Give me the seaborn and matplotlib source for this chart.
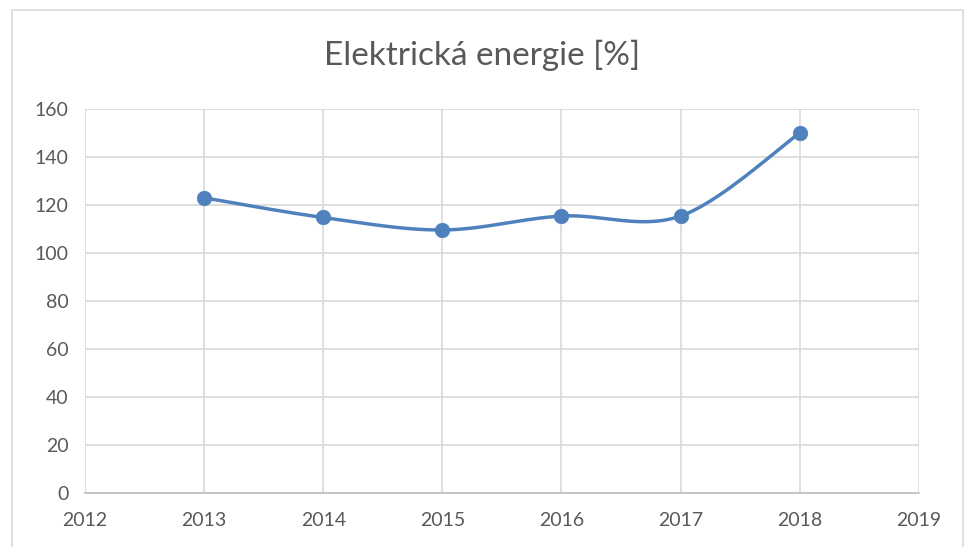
import numpy as np
import pandas as pd
import matplotlib
matplotlib.use('Agg')
import matplotlib.pyplot as plt
import seaborn as sns
from matplotlib.patches import Rectangle

# data
years = [2013, 2014, 2015, 2016, 2017, 2018]
values = [123, 114.8, 109.6, 115.4, 115.4, 150]

LINE_COLOR = '#4f81bd'
TEXT_COLOR = '#595959'
GRID_COLOR = '#d9d9d9'


def smooth_curve(xs, ys, steps=40):
    """Bezier smoothing like Excel's 'smoothed line' (Catmull-Rom control points)"""
    pts = np.column_stack([xs, ys]).astype(float)
    padded = np.vstack([pts[0], pts, pts[-1]])
    out = []
    t = np.linspace(0, 1, steps)[:, None]
    for i in range(1, len(padded) - 2):
        p0, p1, p2, p3 = padded[i - 1], padded[i], padded[i + 1], padded[i + 2]
        c1 = p1 + (p2 - p0) / 6
        c2 = p2 - (p3 - p1) / 6
        seg = ((1 - t) ** 3) * p1 + 3 * ((1 - t) ** 2) * t * c1 + 3 * (1 - t) * t ** 2 * c2 + t ** 3 * p2
        out.append(seg if i == 1 else seg[1:])
    return np.vstack(out)


sns.set_style('white')
plt.rcParams['font.family'] = ['Lato', 'DejaVu Sans']

fig = plt.figure(figsize=(9.65, 5.47), dpi=100)
ax = fig.add_axes([0.0881, 0.0987, 0.864, 0.702])

# chart area border
fig.patches.append(Rectangle((12 / 965, -0.01), 951 / 965, 1 - 10 / 547 + 0.01,
                             transform=fig.transFigure, fill=False,
                             edgecolor='#d9d9d9', linewidth=1.2))

curve = smooth_curve(years, values)
curve_df = pd.DataFrame({'year': curve[:, 0], 'value': curve[:, 1]})
pts_df = pd.DataFrame({'year': years, 'value': values})

sns.lineplot(data=curve_df, x='year', y='value', ax=ax, color=LINE_COLOR,
             linewidth=2.5, sort=False, estimator=None, zorder=3)
sns.scatterplot(data=pts_df, x='year', y='value', ax=ax, color=LINE_COLOR,
                s=110, edgecolor=LINE_COLOR, linewidth=0.5, zorder=4)

ax.set_xlim(2012, 2019)
ax.set_ylim(0, 160)
ax.set_xticks(range(2012, 2020))
ax.set_yticks(range(0, 161, 20))
ax.grid(True, color=GRID_COLOR, linewidth=1.2)
ax.set_axisbelow(True)
for side in ['top', 'right', 'left']:
    ax.spines[side].set_visible(False)
ax.spines['bottom'].set_color('#bfbfbf')
ax.spines['bottom'].set_linewidth(1.2)
ax.tick_params(axis='both', length=0, labelsize=14, labelcolor=TEXT_COLOR)
ax.tick_params(axis='x', pad=14)
ax.tick_params(axis='y', pad=12)
ax.set_xlabel('')
ax.set_ylabel('')

fig.text(0.5, 1 - 55 / 547, 'Elektrická energie [%]', ha='center', va='center',
         fontsize=24, color=TEXT_COLOR)

fig.savefig('out.png', dpi=100)
